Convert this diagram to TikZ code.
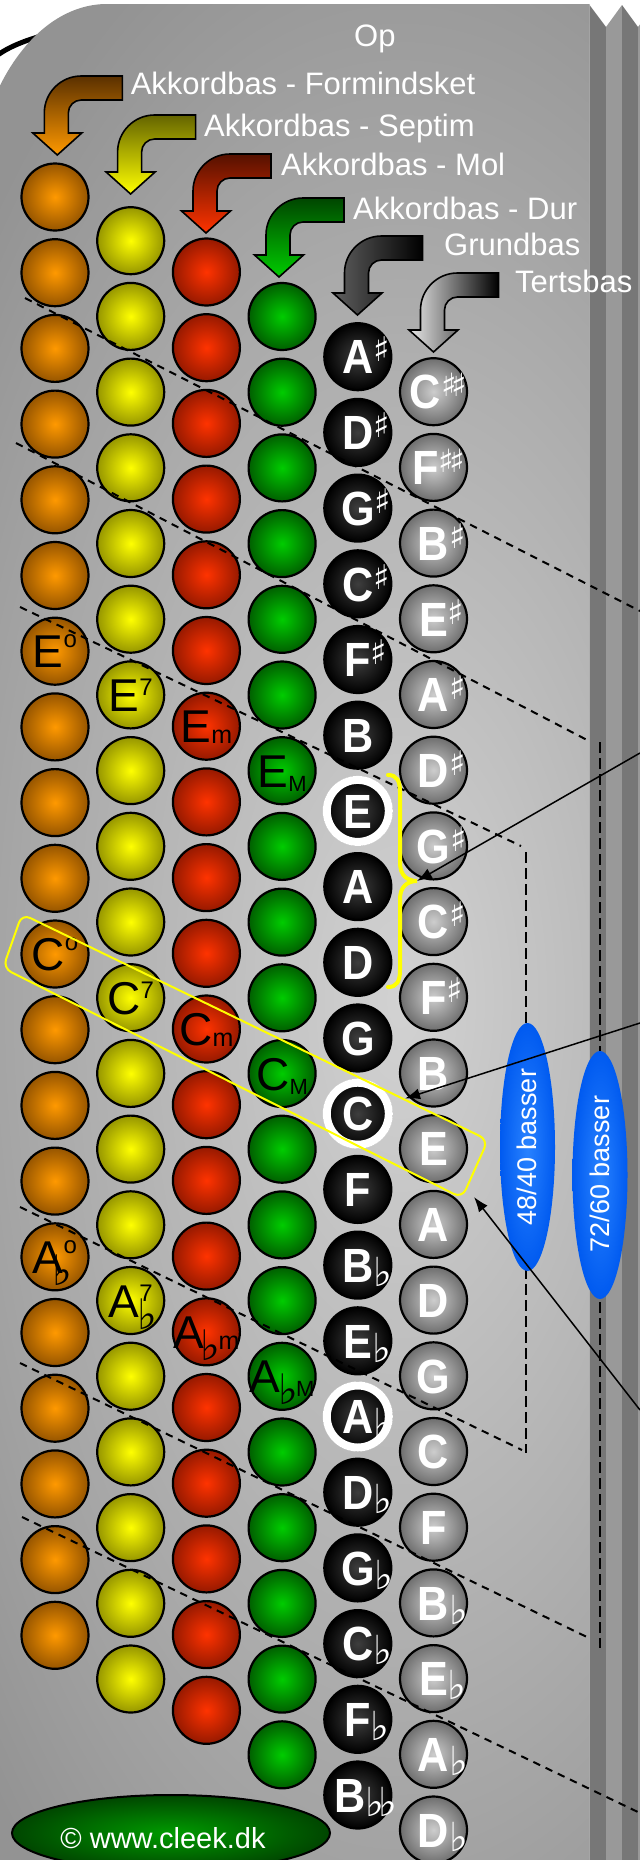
\documentclass[tikz,border=0pt]{standalone}
\usepackage{fontspec}
\setmainfont{Liberation Sans}
\newfontfamily\notefont[FakeStretch=0.9]{Liberation Sans}
\newfontfamily\symfont{DejaVu Sans}
\usetikzlibrary{arrows.meta,calc}
\definecolor{orIn}{RGB}{255,153,0}\definecolor{orOut}{RGB}{150,85,0}
\definecolor{yeIn}{RGB}{255,255,0}\definecolor{yeOut}{RGB}{150,150,0}
\definecolor{reIn}{RGB}{255,51,0}\definecolor{reOut}{RGB}{150,25,0}
\definecolor{grIn}{RGB}{0,204,0}\definecolor{grOut}{RGB}{0,95,0}
\definecolor{bkIn}{RGB}{62,62,62}\definecolor{bkOut}{RGB}{0,0,0}
\definecolor{gyIn}{RGB}{205,205,205}\definecolor{gyOut}{RGB}{110,110,110}
\definecolor{panelIn}{RGB}{210,210,210}\definecolor{panelOut}{RGB}{147,147,147}
\definecolor{stripDark}{RGB}{119,119,119}\definecolor{stripLight}{RGB}{153,153,153}
\definecolor{blueIn}{RGB}{40,130,255}\definecolor{blueOut}{RGB}{0,90,240}
\definecolor{cpIn}{RGB}{0,155,0}\definecolor{cpOut}{RGB}{0,70,0}
\definecolor{aOrTop}{RGB}{90,48,0}\definecolor{aOrBot}{RGB}{255,153,0}
\definecolor{aYeTop}{RGB}{100,100,0}\definecolor{aYeBot}{RGB}{255,255,0}
\definecolor{aReTop}{RGB}{85,17,0}\definecolor{aReBot}{RGB}{255,51,0}
\definecolor{aGrTop}{RGB}{0,70,0}\definecolor{aGrBot}{RGB}{0,204,0}
\definecolor{aBkL}{RGB}{95,95,95}\definecolor{aBkR}{RGB}{0,0,0}
\definecolor{aGyL}{RGB}{232,232,232}\definecolor{aGyR}{RGB}{0,0,0}
\definecolor{braceYellow}{RGB}{255,255,0}
% label pieces
\newcommand\nsz{\fontsize{48bp}{48bp}\selectfont}
\newcommand\csz{\fontsize{46bp}{46bp}\selectfont}
\newcommand\shp{\rlap{\raisebox{12bp}{\symfont\mdseries\fontsize{34bp}{34bp}\selectfont ♯}}}
\newcommand\dsh{\rlap{\raisebox{12bp}{\symfont\mdseries\fontsize{32bp}{32bp}\selectfont ♯\kern-5bp♯}}}
\newcommand\flt{\rlap{\raisebox{-4bp}{\symfont\mdseries\fontsize{40bp}{40bp}\selectfont ♭}}}
\newcommand\dfl{\rlap{\raisebox{-4bp}{\symfont\mdseries\fontsize{40bp}{40bp}\selectfont ♭\kern-6bp♭}}}
\newcommand\dshift{\kern-16bp}
\newcommand\cso{\raisebox{20bp}{\fontsize{24bp}{24bp}\selectfont o}}
\newcommand\csseven{\raisebox{16bp}{\fontsize{24bp}{24bp}\selectfont 7}}
\newcommand\csm{\raisebox{-1bp}{\fontsize{25bp}{25bp}\selectfont m}}
\newcommand\csM{\raisebox{-4bp}{\fontsize{22bp}{22bp}\selectfont M}}
\newcommand\csfl{\raisebox{-12bp}{\symfont\fontsize{42bp}{42bp}\selectfont ♭}}
\newcommand\btncol[5]{%
  \foreach \k in {0,...,19}{%
    \node[btn, inner color=#4, outer color=#5] (#1\k) at (#2,{#3+\k*75.7}) {};
  }}
\tikzset{
  btn/.style={circle, minimum size=67bp, inner sep=0pt, draw=black, line width=2.2bp},
  notelbl/.style={text=white, font=\notefont\bfseries\nsz, inner sep=0pt, anchor=base},
  chordlbl/.style={text=black, font=\csz, inner sep=0pt, anchor=base},
  toptxt/.style={text=white, font=\fontsize{31bp}{31bp}\selectfont, inner sep=0pt, anchor=base west},
  dashdiag/.style={line width=2bp, dash pattern=on 7.5bp off 6bp},
  dashvert/.style={line width=2.6bp, dash pattern=on 11bp off 5bp},
  conn/.style={line width=1.5bp, -{Latex[length=15bp,width=11bp]}},
  pics/bentarrow/.style={code={
    \shadedraw[draw=black, line width=1.6bp, #1] (65,-79) -- (24,-79)
      .. controls (3.6,-79) and (-13,-62.4) .. (-13,-42) -- (-13,-22) -- (-24.5,-22)
      -- (0,0) -- (24.5,-22) -- (11,-22) -- (11,-42)
      .. controls (11,-49.2) and (16.8,-55) .. (24,-55) -- (65,-55) -- cycle;
  }}
}
\begin{document}
\begin{tikzpicture}[x=1bp,y=-1bp]
\useasboundingbox (0,0) rectangle (640,1860);
% black strap arc behind the panel
\draw[line width=5bp] (-5,57) .. controls (8,47) and (25,40) .. (55,32);
% panel
\begin{scope}
  \clip (-40,1900) -- (-28,213) .. controls (-28,97.6) and (32.4,4) .. (107,4) -- (589.5,4) -- (589.5,1900) -- cycle;
  \shade[inner color=panelIn, outer color=panelOut] (-160,-150) rectangle (960,2150);
\end{scope}
% right side strips
\fill[stripDark] (589.5,5) -- (606,27) -- (606,1900) -- (589.5,1900) -- cycle;
\fill[stripLight] (606,27) -- (622,5) -- (622,1900) -- (606,1900) -- cycle;
\fill[stripDark] (622,5) -- (638,27) -- (638,1900) -- (622,1900) -- cycle;
\fill[stripLight] (638,27) -- (655,5) -- (655,1900) -- (638,1900) -- cycle;
% bent arrows
\pic at (57.3,155) {bentarrow={top color=aOrTop, bottom color=aOrBot}};
\pic at (130.6,194) {bentarrow={top color=aYeTop, bottom color=aYeBot}};
\pic at (206,233) {bentarrow={top color=aReTop, bottom color=aReBot}};
\pic at (279,277) {bentarrow={top color=aGrTop, bottom color=aGrBot}};
\pic at (357.5,315) {bentarrow={left color=aBkL, right color=aBkR}};
\pic at (433.5,352) {bentarrow={left color=aGyL, right color=aGyR}};
% texts
\node[toptxt] (tOp) at (354,46.7) {Op};
\node[toptxt] (tForm) at (130.6,94) {Akkordbas - Formindsket};
\node[toptxt] (tSept) at (204,136.7) {Akkordbas - Septim};
\node[toptxt] (tMol) at (281,175) {Akkordbas - Mol};
\node[toptxt] (tDur) at (353,219) {Akkordbas - Dur};
\node[toptxt] (tGrund) at (444,255) {Grundbas};
\node[toptxt] (tTerts) at (515,292.7) {Tertsbas};
% buttons
\btncol{o}{55}{197}{orIn}{orOut}
\btncol{y}{130.7}{240.7}{yeIn}{yeOut}
\btncol{r}{206.4}{272}{reIn}{reOut}
\btncol{g}{282.1}{316.5}{grIn}{grOut}
\btncol{b}{357.8}{356.7}{bkIn}{bkOut}
\btncol{t}{433.5}{391.7}{gyIn}{gyOut}
\foreach \k in {6,10,14}{\draw[white, line width=8bp] (b\k.center) circle (31bp);}
% note labels
\foreach \lab [count=\k from 0] in {A\shp, D\shp, G\shp, C\shp, F\shp, B, E, A, D, G, C, F, B\flt, E\flt, A\flt, D\flt, G\flt, C\flt, F\flt, \dshift B\dfl}{
  \node[notelbl] (bl\k) at (357.8,{356.7+\k*75.7+17.2}) {\lab};
}
\foreach \lab [count=\k from 0] in {\dshift C\dsh, \dshift F\dsh, B\shp, E\shp, A\shp, D\shp, G\shp, C\shp, F\shp, B, E, A, D, G, C, F, B\flt, E\flt, A\flt, D\flt}{
  \node[notelbl] (tl\k) at (433.5,{391.7+\k*75.7+17.2}) {\lab};
}
% chord labels
\node[chordlbl] (lo6) at ($(o6.center)+(0,16.5)$) {E\cso};
\node[chordlbl] (lo10) at ($(o10.center)+(0,16.5)$) {C\cso};
\node[chordlbl] (lo14) at ($(o14.center)+(0,16.5)$) {A\rlap{\kern-11bp\csfl}\cso};
\node[chordlbl] (ly6) at ($(y6.center)+(0,16.5)$) {E\csseven};
\node[chordlbl] (ly10) at ($(y10.center)+(0,16.5)$) {C\csseven};
\node[chordlbl] (ly14) at ($(y14.center)+(0,16.5)$) {A\rlap{\kern-2bp\csfl}\csseven};
\node[chordlbl] (lr6) at ($(r6.center)+(0,16.5)$) {E\csm};
\node[chordlbl] (lr10) at ($(r10.center)+(0,16.5)$) {C\csm};
\node[chordlbl] (lr14) at ($(r14.center)+(0,16.5)$) {A\kern-3bp\csfl\kern-2bp\csm};
\node[chordlbl] (lg6) at ($(g6.center)+(0,16.5)$) {E\csM};
\node[chordlbl] (lg10) at ($(g10.center)+(0,16.5)$) {C\csM};
\node[chordlbl] (lg14) at ($(g14.center)+(0,16.5)$) {A\kern-2bp\csfl\kern-2bp\csM};
% dashed range lines
\draw[dashdiag] (25,298) -- (640,611);
\draw[dashdiag] (16,443) -- (589,741);
\draw[dashvert] (600,742) -- (600,1648);
\draw[dashdiag] (20,1363) -- (589,1638);
\draw[dashdiag] (20,607) -- (521,846);
\draw[dashvert] (526,852) -- (526,1453);
\draw[dashdiag] (20,1207) -- (522,1450);
\draw[dashdiag] (22,1517) -- (640,1813);
% yellow brace and box
\draw[braceYellow, line width=4bp, line cap=round] (388,775) .. controls (397,775) and (400,781) .. (400,792) -- (400,863) .. controls (400,875) and (407,881) .. (417,881) .. controls (407,881) and (400,887) .. (400,899) -- (400,970) .. controls (400,981) and (397,987) .. (388,987);
\coordinate (bracetip) at (417,881);
\draw[braceYellow, line width=2bp, rounded corners=9bp] (22,914) -- (488,1140) -- (462,1198) -- (3,968) -- cycle;
\coordinate (boxtip) at (474,1197);
% blue ellipses
\shade[inner color=blueIn, outer color=blueOut] (527.5,1147) ellipse (27.5bp and 124bp);
\node[rotate=90, text=white, font=\fontsize{27bp}{27bp}\selectfont, inner sep=0pt] (e48) at (527,1147) {48/40 basser};
\shade[inner color=blueIn, outer color=blueOut] (600,1175) ellipse (27.5bp and 124bp);
\node[rotate=90, text=white, font=\fontsize{27bp}{27bp}\selectfont, inner sep=0pt] (e72) at (600,1174) {72/60 basser};
% pointer arrows
\coordinate (a1s) at (640,753);
\coordinate (a2s) at (640,1023);
\coordinate (a3s) at (640,1410);
\draw[conn] (a1s) -- (bracetip);
\draw[conn, shorten >=15bp] (a2s) -- (b10);
\draw[conn] (a3s) -- (boxtip);
% copyright
\shadedraw[inner color=cpIn, outer color=cpOut, draw=black, line width=2bp] (171,1833) ellipse (159bp and 38bp);
\node[text=white, font=\fontsize{29bp}{29bp}\selectfont, inner sep=0pt] (cp) at (163,1838) {© www.cleek.dk};
\end{tikzpicture}
\end{document}
